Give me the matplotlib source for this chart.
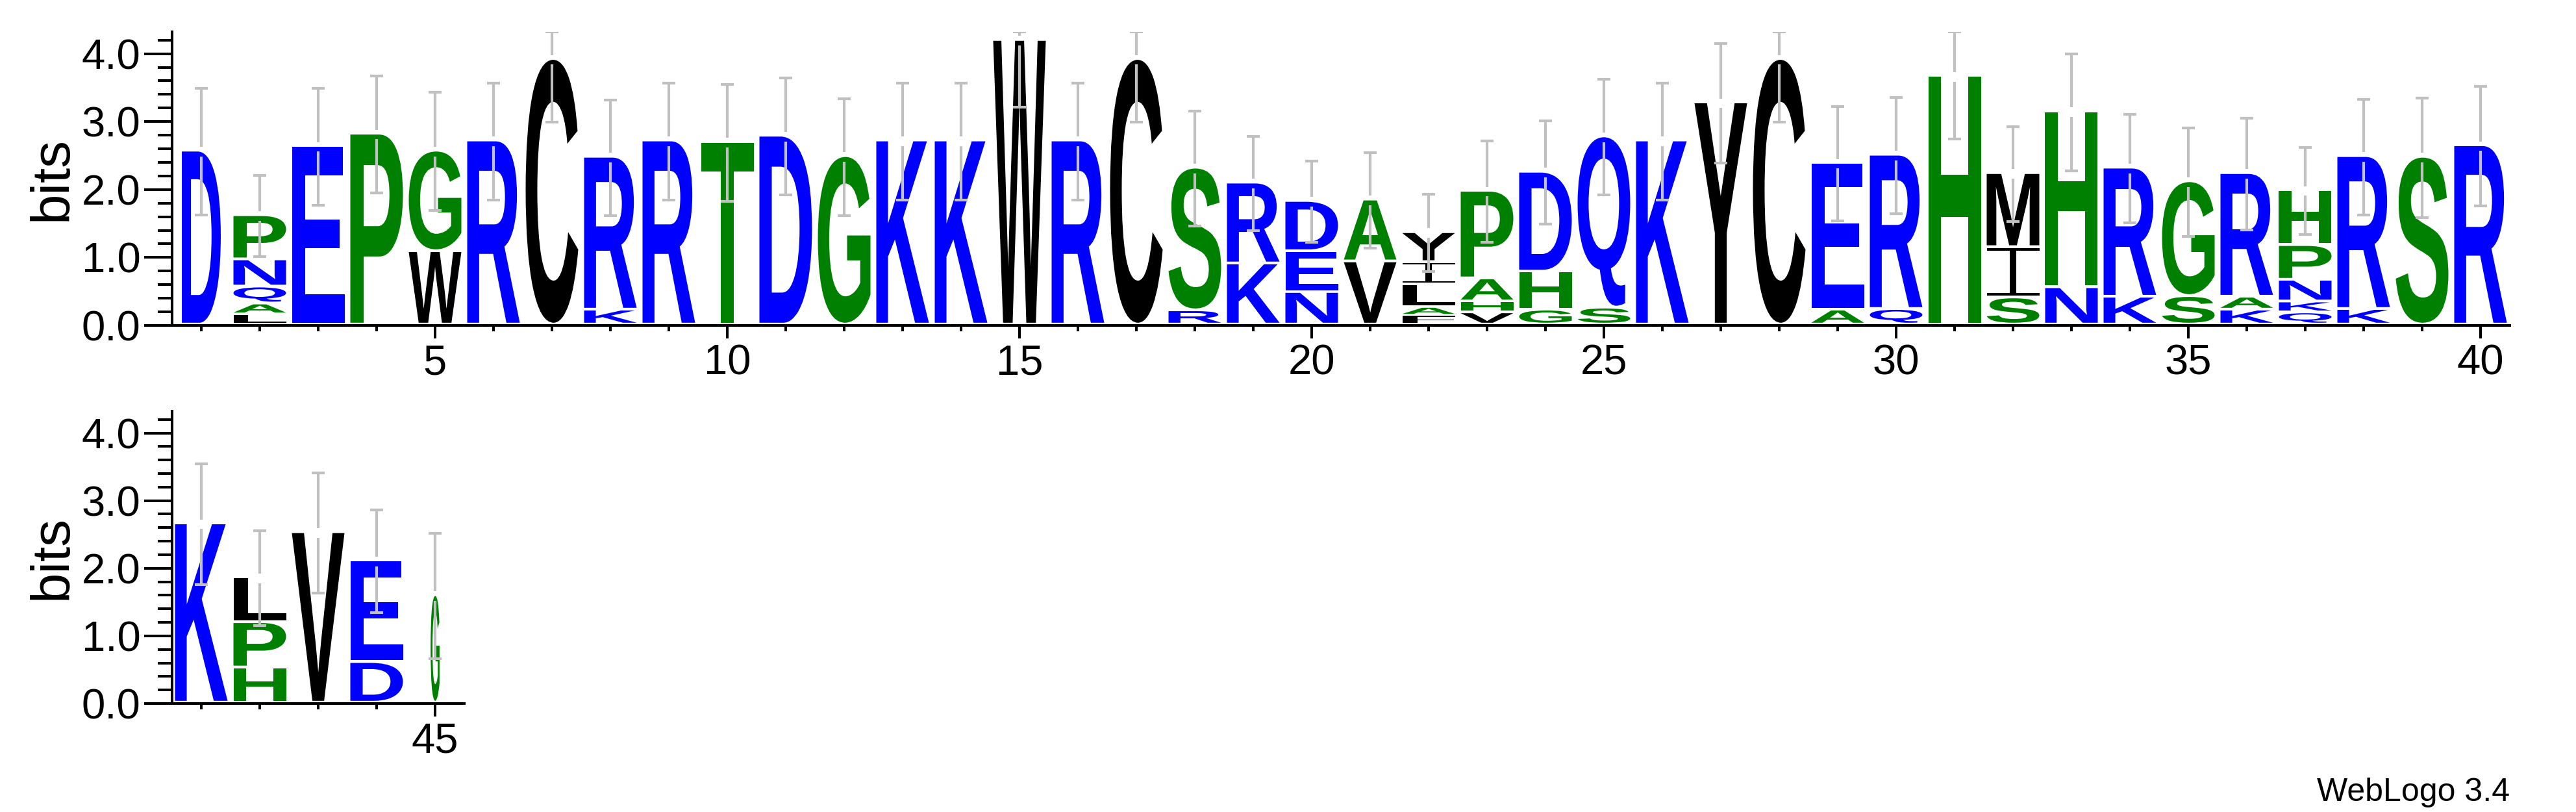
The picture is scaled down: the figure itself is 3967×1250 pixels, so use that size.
import matplotlib
matplotlib.use('Agg')
import matplotlib.pyplot as plt
from matplotlib.textpath import TextPath
from matplotlib.patches import PathPatch
from matplotlib.font_manager import FontProperties
from matplotlib.path import Path
from matplotlib.transforms import Affine2D, blended_transform_factory
from matplotlib.ticker import MultipleLocator, FormatStrFormatter

plt.rcParams['font.family'] = ['Liberation Sans', 'DejaVu Sans']

# sequence logo data: letters per column, bottom -> top, with their heights in bits
letters = [
    "D", "LAQNP", "E", "P", "WG", "R", "C", "KR", "R", "T",
    "D", "G", "K", "K", "W", "R", "C", "RS", "KR", "NED",
    "VA", "FALIY", "VHAP", "GHD", "SQ", "K", "Y", "C", "AE", "QR",
    "H", "SIM", "NH", "KR", "SG", "KAR", "QKNPH", "KR", "S", "R",
    "K", "HPL", "V", "DE", "G",
]
heights = [
    [2.56], [0.15, 0.16, 0.25, 0.40, 0.65], [2.63], [2.81], [1.08, 1.48],
    [2.71], [3.91], [0.22, 2.25], [2.71], [2.69],
    [2.78], [2.48], [2.71], [2.71], [4.19],
    [2.71], [3.91], [0.21, 2.10], [0.90, 1.19], [0.48, 0.60, 0.74],
    [0.93, 0.91], [0.14, 0.12, 0.33, 0.33, 0.44], [0.18, 0.16, 0.34, 1.29], [0.22, 0.56, 1.47], [0.25, 2.52],
    [2.71], [3.27], [3.91], [0.22, 2.16], [0.23, 2.27],
    [3.66], [0.40, 0.74, 1.09], [0.55, 2.59], [0.41, 1.90], [0.42, 1.69],
    [0.22, 0.19, 1.82], [0.18, 0.16, 0.32, 0.51, 0.81], [0.23, 2.25], [2.47], [2.64],
    [2.65], [0.52, 0.67, 0.66], [2.52], [0.60, 1.50], [1.59],
]
errors = [0.93, 0.60, 0.86, 0.86, 0.87, 0.86, 0.92, 0.85, 0.86, 0.86,
          0.86, 0.86, 0.86, 0.86, 0.98, 0.86, 0.92, 0.85, 0.69, 0.60,
          0.70, 0.57, 0.75, 0.76, 0.85, 0.86, 0.88, 0.92, 0.84, 0.86,
          0.92, 0.70, 0.86, 0.80, 0.80, 0.82, 0.64, 0.85, 0.88, 0.88,
          0.89, 0.70, 0.89, 0.76, 0.93]
# fraction of sequences covering each column (scales the stack width)
coverage = [0.74, 1, 1, 1, 1, 1, 1, 1, 1, 1,
            1, 1, 1, 1, 1, 1, 1, 1, 1, 1,
            1, 1, 1, 1, 1, 1, 1, 1, 1, 1,
            1, 1, 1, 1, 1, 1, 1, 1, 1, 1,
            1, 1, 1, 1, 0.17]

BLUE, GREEN, BLACK = '#0000ff', '#008000', '#000000'
colors = {}
for c in "DERKNQ":
    colors[c] = BLUE
for c in "PGTSAH":
    colors[c] = GREEN
for c in "CWYVLIMF":
    colors[c] = BLACK

YMAX = 4.3219
FONT = FontProperties(family='Liberation Sans', weight='bold')


def _rect(x0, y0, x1, y1):
    return Path([(x0, y0), (x1, y0), (x1, y1), (x0, y1), (x0, y0)],
                [Path.MOVETO, Path.LINETO, Path.LINETO, Path.LINETO, Path.CLOSEPOLY])


# weblogo draws "I" with bars top and bottom
IBEAM = Path.make_compound_path(_rect(0, 0, 1, 0.06), _rect(0.44, 0.06, 0.56, 0.94),
                                _rect(0, 0.94, 1, 1))


def draw_letter(ax, ch, x, y, w, h):
    path = IBEAM if ch == 'I' else TextPath((0, 0), ch, size=1, prop=FONT)
    ext = path.get_extents()
    tr = (Affine2D().translate(-ext.x0, -ext.y0)
          .scale(w / ext.width, h / ext.height)
          .translate(x - w / 2, y))
    ax.add_patch(PathPatch(tr.transform_path(path), fc=colors[ch], ec='none', lw=0, zorder=2))


def draw_column(ax, pos):
    i = pos - 1
    w = 0.9 * coverage[i]
    y = 0.0
    for ch, h in zip(letters[i], heights[i]):
        pad = min(0.04, 0.25 * h)
        draw_letter(ax, ch, pos, y + pad, w, h - pad)
        y += h
    top, e, gap = y, errors[i], 0.07
    lo, hi = top - e, min(top + e, YMAX)
    kw = dict(colors='#c0c0c0', lw=3, zorder=3)
    ax.vlines(pos, lo, top - gap, **kw)
    if top + gap < hi:
        ax.vlines(pos, top + gap, hi, **kw)
    ax.hlines([lo, hi], pos - 0.115, pos + 0.115, **kw)


def style_axes(ax, fig, x0, x1):
    ax.set_xlim(x0, x1)
    ax.set_ylim(0, YMAX)
    for s in ('top', 'right'):
        ax.spines[s].set_visible(False)
    for s in ('left', 'bottom'):
        ax.spines[s].set_linewidth(2.9)
    ax.yaxis.set_major_locator(MultipleLocator(1))
    ax.yaxis.set_minor_locator(MultipleLocator(0.2))
    ax.yaxis.set_major_formatter(FormatStrFormatter('%.1f'))
    ax.xaxis.set_major_locator(MultipleLocator(5))
    ax.xaxis.set_minor_locator(MultipleLocator(1))
    ax.tick_params(axis='y', which='major', length=31, width=2.9, pad=4, labelsize=47)
    ax.tick_params(axis='y', which='minor', length=16, width=2.9)
    ax.tick_params(axis='x', which='major', length=14.5, width=2.9, pad=6, labelsize=47)
    ax.tick_params(axis='x', which='minor', length=6.5, width=2.9)
    ax.set_ylabel('bits', fontsize=60)
    ax.yaxis.set_label_coords(120 / 3967, 0.5,
                              transform=blended_transform_factory(fig.transFigure, ax.transAxes))


fig = plt.figure(figsize=(39.67, 12.5), dpi=100)
ax1 = fig.add_axes([265 / 3967, 749 / 1250, 3600 / 3967, 452 / 1250])
ax2 = fig.add_axes([265 / 3967, 167 / 1250, 450 / 3967, 450 / 1250])

for pos in range(1, 41):
    draw_column(ax1, pos)
for pos in range(41, len(letters) + 1):
    draw_column(ax2, pos)

style_axes(ax1, fig, 0.5, 40.5)
style_axes(ax2, fig, 40.5, 45.5)

fig.text(3865 / 3967, 17 / 1250, 'WebLogo 3.4', fontsize=36, ha='right', va='baseline')

fig.savefig('out.png', dpi=100)
